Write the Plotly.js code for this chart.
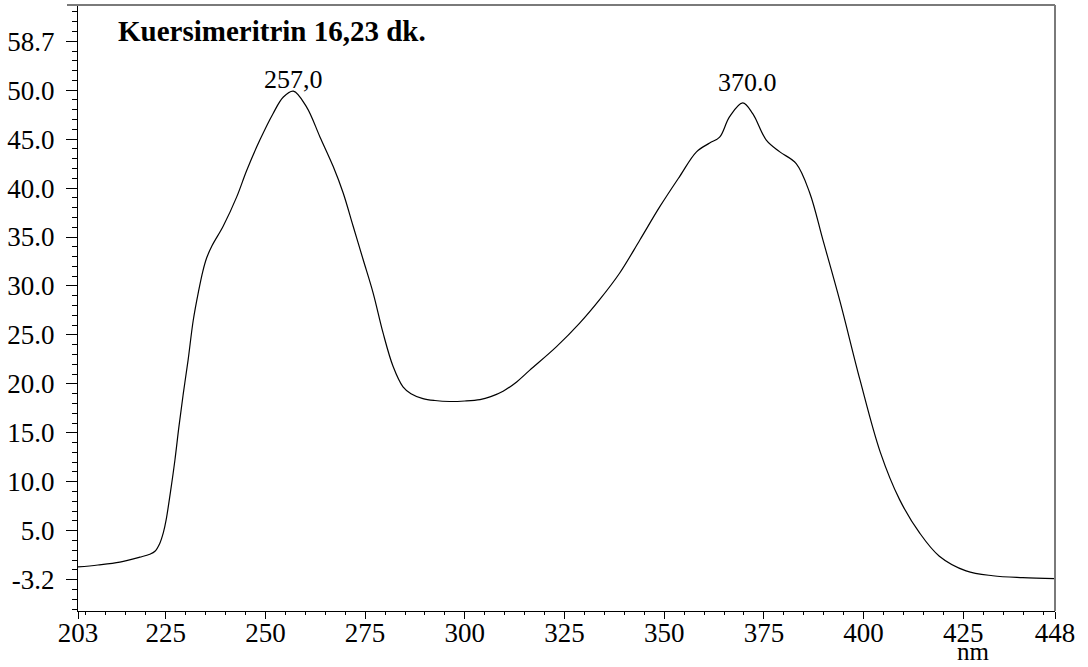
<!DOCTYPE html>
<html>
<head>
<meta charset="utf-8">
<script src="https://cdn.plot.ly/plotly-3.0.1.min.js"></script>
<style>html,body{margin:0;padding:0;background:#fff;}#chart{width:1088px;height:667px;}</style>
</head>
<body>
<div id="chart"></div>
<script>
const wavelength = [203, 208, 213.5, 218.5, 221, 222.3, 223.5, 224.4, 225.1, 226.2, 227.3, 228.3, 229.4, 230.6, 231.9, 233.2, 234.3, 235.3, 236.6, 239.4, 242.8, 245.3, 248.6, 251.9, 254.5, 257, 260.3, 263.7, 267, 269.5, 272, 274.5, 277, 279.5, 282, 284.5, 286.5, 289.5, 292.5, 296.2, 300, 303.8, 306.5, 309.6, 313, 316.3, 323, 328.8, 333.8, 338.8, 343.9, 348.9, 353.9, 358.1, 361.4, 363.9, 366.4, 369.7, 372.2, 375.6, 379, 383.1, 386.5, 389.8, 394.1, 399.1, 404.2, 409, 414, 419, 425.7, 432.4, 439.9, 448];
const absorbance = [1.3, 1.5, 1.8, 2.3, 2.6, 2.9, 3.7, 4.8, 6.1, 9.0, 12.2, 15.6, 19.0, 22.4, 26.5, 29.4, 31.5, 32.9, 34.1, 36.1, 39.1, 41.8, 44.9, 47.6, 49.3, 49.9, 48.3, 45.2, 42.2, 39.5, 36.1, 32.7, 29.3, 25.2, 21.8, 19.7, 19.0, 18.5, 18.3, 18.2, 18.25, 18.4, 18.7, 19.25, 20.2, 21.4, 23.8, 26.2, 28.6, 31.3, 34.7, 38.1, 41.2, 43.7, 44.6, 45.2, 47.3, 48.7, 47.6, 44.9, 43.7, 42.5, 39.5, 34.7, 28.4, 20.4, 13.0, 8.2, 4.8, 2.4, 0.9, 0.4, 0.2, 0.1];

const xTickVals = [203, 225, 250, 275, 300, 325, 350, 375, 400, 425, 448];
const xTickText = ['203', '225', '250', '275', '300', '325', '350', '375', '400', '425', '448'];
const yTickVals = [0, 5, 10, 15, 20, 25, 30, 35, 40, 45, 50, 55];
const yTickText = ['-3.2', '5.0', '10.0', '15.0', '20.0', '25.0', '30.0', '35.0', '40.0', '45.0', '50.0', '58.7'];
const xRange = [203, 448];
const yRange = [-3.2, 58.7];

const titleText = '<b>Kuersimeritrin 16,23 dk.</b>';
const peakX = [257, 371];
const peakY = [49.9, 48.7];
const peakText = ['257,0', '370.0'];
const xUnit = 'nm';

const serif = 'Liberation Serif';

const trace = {
  x: wavelength,
  y: absorbance,
  type: 'scatter',
  mode: 'lines',
  line: {color: '#000', width: 1.2, shape: 'spline', smoothing: 1},
  hoverinfo: 'skip'
};

const labelShift = [-5, 4];
const annotations = peakX.map((x, i) => ({
  x: x, y: peakY[i], xref: 'x', yref: 'y', text: peakText[i], showarrow: false,
  xanchor: 'center', yanchor: 'bottom', yshift: labelShift[i],
  font: {family: serif, size: 26, color: '#000'}
}));
annotations.push({
  x: 0.917, y: -0.067, xref: 'paper', yref: 'paper', text: xUnit, showarrow: false,
  xanchor: 'center', yanchor: 'middle', font: {family: serif, size: 25, color: '#000'}
});

const layout = {
  width: 1088, height: 667,
  margin: {l: 78, r: 33, t: 5, b: 56, pad: 0},
  paper_bgcolor: '#fff', plot_bgcolor: '#fff',
  showlegend: false,
  title: {
    text: titleText, xref: 'container', yref: 'container',
    x: 118 / 1088, y: 1 - 31 / 667, xanchor: 'left', yanchor: 'middle',
    font: {family: serif, size: 29, color: '#000'}
  },
  xaxis: {
    range: xRange, showgrid: false, zeroline: false,
    showline: true, linecolor: '#000', linewidth: 1.2,
    tickmode: 'array', tickvals: xTickVals, ticktext: xTickText,
    ticks: 'outside', ticklen: 7, tickwidth: 1, tickcolor: '#000',
    ticklabelstandoff: -10,
    tickfont: {family: serif, size: 27, color: '#000'},
    minor: {tick0: 0, dtick: 5, ticks: 'outside', ticklen: 3, tickwidth: 1, tickcolor: '#000', showgrid: false}
  },
  yaxis: {
    range: yRange, showgrid: false, zeroline: false,
    showline: true, linecolor: '#000', linewidth: 1.2,
    tickmode: 'array', tickvals: yTickVals, ticktext: yTickText,
    ticks: 'outside', ticklen: 11, tickwidth: 1, tickcolor: '#000',
    ticklabelstandoff: 6,
    tickfont: {family: serif, size: 27, color: '#000'},
    minor: {tick0: 0, dtick: 1, ticks: 'outside', ticklen: 5, tickwidth: 1, tickcolor: '#000', showgrid: false}
  },
  shapes: [
    {type: 'line', xref: 'paper', yref: 'paper', x0: -11 / 977, x1: 1, y0: 1, y1: 1, line: {color: '#7a7a7a', width: 2}},
    {type: 'line', xref: 'paper', yref: 'paper', x0: 1, x1: 1, y0: 0, y1: 1, line: {color: '#7a7a7a', width: 2}}
  ],
  annotations: annotations
};

Plotly.newPlot('chart', [trace], layout, {displayModeBar: false, staticPlot: true});
</script>
</body>
</html>
